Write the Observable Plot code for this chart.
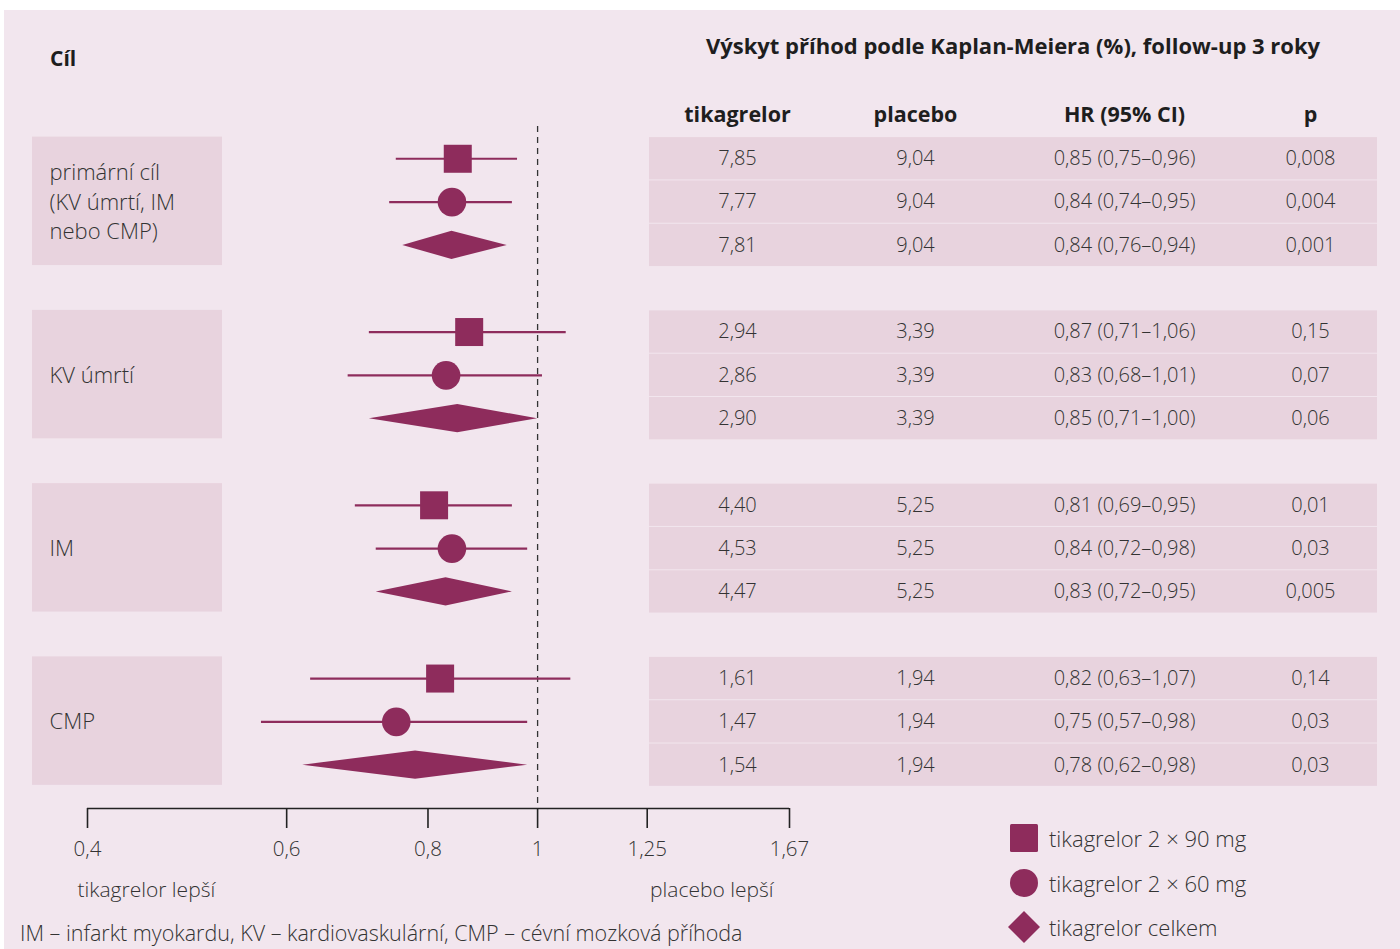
<!DOCTYPE html>
<html>
<head>
<meta charset="utf-8">
<script src="https://cdn.jsdelivr.net/npm/d3@7"></script>
<script src="https://cdn.jsdelivr.net/npm/@observablehq/plot@0.6"></script>
<style>
  html, body { margin: 0; padding: 0; background: #fff; }
  #wrap { position: relative; width: 1400px; height: 949px; overflow: hidden; background: #fff; font-family: "Open Sans", sans-serif; }
  #bg { position: absolute; left: 4px; top: 10px; right: 0; bottom: 0; background: #f2e6ee; }
  .layer { position: absolute; top: 0; left: 0; }
  .layer svg { overflow: visible; background: transparent; }
  .t { position: absolute; transform: translateY(-50%); white-space: nowrap; color: #333; line-height: 1.2; }
  .bold { font-weight: 700; color: #1e1e1e; }
  .legend { position: absolute; left: 1008px; top: 816px; }
  .legend .row { display: flex; align-items: center; height: 44.5px; }
  .legend svg { width: 32px; height: 32px; margin-right: 9px; }
  .legend span { font-size: 22px; font-weight: 300; color: #333; }
</style>
</head>
<body>
<div id="wrap">
  <div id="bg"></div>
  <div id="labels" class="layer"></div>
  <div id="table" class="layer"></div>
  <div id="forest" class="layer"></div>
  <div class="t bold" style="left:50px; top:59px; font-size:21px;">Cíl</div>
  <div class="t bold" id="tabTitle" style="left:649px; width:728px; text-align:center; top:45px; font-size:22px;"></div>
  <div class="legend" id="legend"></div>
  <div class="t" id="foot" style="left:20px; top:933px; font-size:21.5px; font-weight:300;"></div>
</div>
<script>
// ---- data ----
const endpoints = ["primární cíl\n(KV úmrtí, IM\nnebo CMP)", "KV úmrtí", "IM", "CMP"];
const regimens = ["tikagrelor 2 × 90 mg", "tikagrelor 2 × 60 mg", "tikagrelor celkem"];
const hr     = [0.85, 0.84, 0.84,  0.87, 0.83, 0.85,  0.81, 0.84, 0.83,  0.82, 0.75, 0.78];
const ciLow  = [0.75, 0.74, 0.76,  0.71, 0.68, 0.71,  0.69, 0.72, 0.72,  0.63, 0.57, 0.62];
const ciHigh = [0.96, 0.95, 0.94,  1.06, 1.01, 1.00,  0.95, 0.98, 0.95,  1.07, 0.98, 0.98];
const rateTicagrelor = [7.85, 7.77, 7.81,  2.94, 2.86, 2.90,  4.40, 4.53, 4.47,  1.61, 1.47, 1.54];
const ratePlacebo    = [9.04, 9.04, 9.04,  3.39, 3.39, 3.39,  5.25, 5.25, 5.25,  1.94, 1.94, 1.94];
const pValues = ["0,008", "0,004", "0,001", "0,15", "0,07", "0,06", "0,01", "0,03", "0,005", "0,14", "0,03", "0,03"];
const xTicks = [0.4, 0.6, 0.8, 1, 1.25, 1.67];
const columns = ["tikagrelor", "placebo", "HR (95% CI)", "p"];
const sideLabels = ["tikagrelor lepší", "placebo lepší"];
const tableTitle = "Výskyt příhod podle Kaplan-Meiera (%), follow-up 3 roky";
const footnote = "IM – infarkt myokardu, KV – kardiovaskulární, CMP – cévní mozková příhoda";

// ---- derived ----
const C = "#8e2c5c";
const PANEL = "#e8d3de";
const TXT = "#333";
const comma = v => String(v).replace(".", ",");
const f2 = v => v.toFixed(2).replace(".", ",");
const perGroup = regimens.length;
const slotCount = endpoints.length * (perGroup + 1) - 1;
const rows = hr.map((h, k) => {
  const g = Math.floor(k / perGroup), r = k % perGroup;
  return {g, r, slot: g * (perGroup + 1) + r, hr: h, lo: ciLow[k], hi: ciHigh[k],
          tik: f2(rateTicagrelor[k]), plc: f2(ratePlacebo[k]),
          hrText: `${f2(h)} (${f2(ciLow[k])}–${f2(ciHigh[k])})`, p: pValues[k]};
});
const colIndex = c => columns.indexOf(c);
const cells = rows.flatMap(d => [
  {col: columns[0], slot: d.slot, text: d.tik},
  {col: columns[1], slot: d.slot, text: d.plc},
  {col: columns[2], slot: d.slot, text: d.hrText},
  {col: columns[3], slot: d.slot, text: d.p}
]);
const HALF = 0.325; // diamond half-height in row units
const diamonds = rows.filter(d => d.r === 2).flatMap(d => [
  {id: d.g, x: d.lo, y1: d.slot, y2: d.slot},
  {id: d.g, x: d.hr, y1: d.slot - HALF, y2: d.slot + HALF},
  {id: d.g, x: d.hi, y1: d.slot, y2: d.slot}
]);

const H = 949, MT = 126, MB = 141;
const yScale = {domain: [-0.745, slotCount], reverse: true, axis: null};
const baseStyle = {fontFamily: "Open Sans", background: "transparent", overflow: "visible"};

// ---- left labels ----
const labelsPlot = Plot.plot({
  width: 240, height: H, marginLeft: 32, marginRight: 18, marginTop: MT, marginBottom: MB,
  style: baseStyle, y: yScale,
  marks: [
    Plot.rect(endpoints, {y1: (d, i) => i * (perGroup + 1) - 0.5, y2: (d, i) => i * (perGroup + 1) + perGroup - 0.5,
      fill: PANEL, insetBottom: 1.5}),
    Plot.text(endpoints, {y: (d, i) => i * (perGroup + 1) + 1, text: d => d, frameAnchor: "left", textAnchor: "start",
      dx: 17, dy: -2, fontSize: 22, fontWeight: 300, lineHeight: 1.34, fill: TXT})
  ]
});
document.getElementById("labels").append(labelsPlot);

// ---- table (column centres set by a piecewise position scale) ----
const tablePlot = Plot.plot({
  width: 1400, height: H, marginLeft: 649, marginRight: 23, marginTop: MT, marginBottom: MB,
  style: baseStyle, y: yScale,
  x: {type: "linear", domain: columns.map((c, i) => i), range: [737, 915, 1124, 1310], axis: null},
  marks: [
    Plot.rect(rows, {y1: d => d.slot - 0.5, y2: d => d.slot + 0.5, fill: PANEL, insetTop: 0.5, insetBottom: 0.5}),
    Plot.text(columns, {x: d => colIndex(d), y: () => -1, text: d => d, fontSize: 21.5, fontWeight: 700, fill: "#1e1e1e"}),
    Plot.text(cells, {x: d => colIndex(d.col), y: "slot", text: "text", fontSize: 20, fontWeight: 300, fill: TXT})
  ]
});
document.getElementById("table").append(tablePlot);

// ---- forest ----
const forestPlot = Plot.plot({
  width: 820, height: H, marginLeft: 87, marginRight: 31, marginTop: MT, marginBottom: MB,
  style: baseStyle, y: yScale,
  x: {type: "log", domain: [xTicks[0], xTicks[xTicks.length - 1]]},
  marks: [
    Plot.ruleX([1], {stroke: "#333", strokeWidth: 1.3, strokeDasharray: "6,5"}),
    Plot.ruleY([slotCount], {x1: () => xTicks[0], x2: () => xTicks[xTicks.length - 1], stroke: "#222", strokeWidth: 1.6}),
    Plot.axisX({ticks: xTicks, tickFormat: comma, tickSize: 20, tickPadding: 13, fontSize: 20.5, fontWeight: 300,
      stroke: "#222", strokeWidth: 1.6, fill: TXT, label: null}),
    Plot.ruleY(rows.filter(d => d.r < 2), {y: "slot", x1: "lo", x2: "hi", stroke: C, strokeWidth: 2.2}),
    Plot.dot(rows.filter(d => d.r === 0), {x: "hr", y: "slot", symbol: "square", r: 15.8, fill: C}),
    Plot.dot(rows.filter(d => d.r === 1), {x: "hr", y: "slot", symbol: "circle", r: 14.3, fill: C}),
    Plot.areaY(diamonds, {x: "x", y1: "y1", y2: "y2", z: "id", fill: C}),
    Plot.text([sideLabels[0]], {text: d => d, frameAnchor: "bottom-left", textAnchor: "start", dx: -10, dy: 88,
      fontSize: 21, fontWeight: 300, fill: TXT}),
    Plot.text([sideLabels[1]], {text: d => d, frameAnchor: "bottom-right", textAnchor: "end", dx: -16, dy: 88,
      fontSize: 21, fontWeight: 300, fill: TXT})
  ]
});
document.getElementById("forest").append(forestPlot);

// ---- titles / legend / footnote ----
document.getElementById("tabTitle").textContent = tableTitle;
document.getElementById("foot").textContent = footnote;
const shapes = [
  `<rect x="2" y="2" width="28" height="28" rx="1.5" fill="${C}"/>`,
  `<circle cx="16" cy="16" r="14" fill="${C}"/>`,
  `<polygon points="16,0 32,16 16,32 0,16" fill="${C}"/>`
];
document.getElementById("legend").innerHTML = regimens.map((r, i) =>
  `<div class="row"><svg viewBox="0 0 32 32">${shapes[i]}</svg><span>${r}</span></div>`).join("");
</script>
</body>
</html>
